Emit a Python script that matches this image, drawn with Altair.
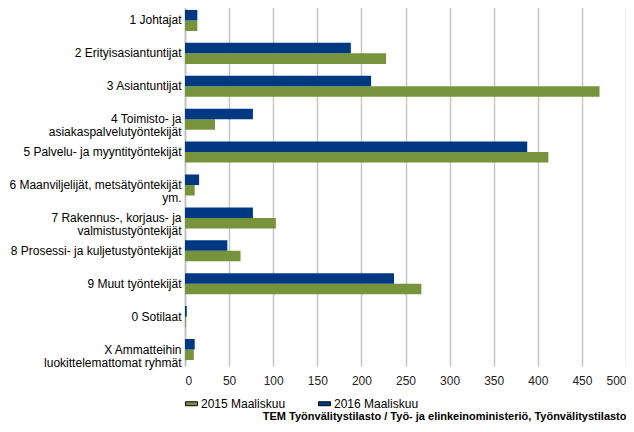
import altair as alt
import pandas as pd

categories = [
    "1 Johtajat",
    "2 Erityisasiantuntijat",
    "3 Asiantuntijat",
    "4 Toimisto- ja|asiakaspalvelutyöntekijät",
    "5 Palvelu- ja myyntityöntekijät",
    "6 Maanviljelijät, metsätyöntekijät|ym.",
    "7 Rakennus-, korjaus- ja|valmistustyöntekijät",
    "8 Prosessi- ja kuljetustyöntekijät",
    "9 Muut työntekijät",
    "0 Sotilaat",
    "X Ammatteihin|luokittelemattomat ryhmät",
]
values_2015 = [14, 228, 470, 34, 412, 11, 103, 63, 268, 1, 10]
values_2016 = [14, 188, 211, 77, 388, 16, 77, 48, 237, 2, 11]
series = ["2015 Maaliskuu", "2016 Maaliskuu"]
colors = ["#77933C", "#003882"]
source_text = "TEM Työnvälitystilasto / Työ- ja elinkeinoministeriö, Työnvälitystilasto"

rows = []
for c, a, b in zip(categories, values_2015, values_2016):
    rows.append({"cat": c, "series": series[0], "value": a})
    rows.append({"cat": c, "series": series[1], "value": b})
df = pd.DataFrame(rows)

chart = alt.Chart(df).mark_bar().encode(
    y=alt.Y(
        "cat:N",
        sort=categories,
        title=None,
        scale=alt.Scale(paddingInner=0.36, paddingOuter=0.18),
        axis=alt.Axis(
            labelExpr="split(datum.label, '|')",
            labelFont="Liberation Sans",
            labelFontSize=12,
            labelColor="#000000",
            labelLineHeight=13,
            labelPadding=4,
            ticks=False,
            domain=True,
            domainColor="#bfbfbf",
            domainWidth=1.5,
            grid=False,
            labelLimit=300,
        ),
    ),
    yOffset=alt.YOffset("series:N", sort=[series[1], series[0]]),
    x=alt.X(
        "value:Q",
        title=source_text,
        scale=alt.Scale(domain=[0, 500], nice=False),
        axis=alt.Axis(
            values=list(range(0, 501, 50)),
            labelFont="Liberation Sans",
            labelFontSize=12,
            labelColor="#222222",
            labelPadding=9,
            ticks=False,
            domain=False,
            grid=True,
            gridColor="#c6c6c6",
            gridWidth=1.5,
            titleAnchor="end",
            titleAlign="right",
            titleFont="Liberation Sans",
            titleFontSize=11,
            titleFontWeight="bold",
            titleColor="#000000",
            titlePadding=24,
        ),
    ),
    color=alt.Color(
        "series:N",
        scale=alt.Scale(domain=series, range=colors),
        legend=alt.Legend(
            title=None,
            orient="none",
            direction="horizontal",
            legendX=0,
            legendY=393,
            symbolType="M-1,-0.33H1V0.33H-1Z",
            symbolSize=144,
            symbolStrokeColor="#000000",
            symbolStrokeWidth=1,
            symbolOpacity=1,
            labelFont="Liberation Sans",
            labelFontSize=12,
            labelColor="#000000",
            labelOffset=3,
            columnPadding=30,
            padding=0,
        ),
    ),
).properties(
    width=618,
    height=416,
    autosize=alt.AutoSizeParams(type="fit", contains="padding"),
    padding={"top": -4, "left": 0, "right": 0, "bottom": 3},
).configure_view(stroke=None)

chart.save("out.html", embed_options={"renderer": "svg", "actions": False})
